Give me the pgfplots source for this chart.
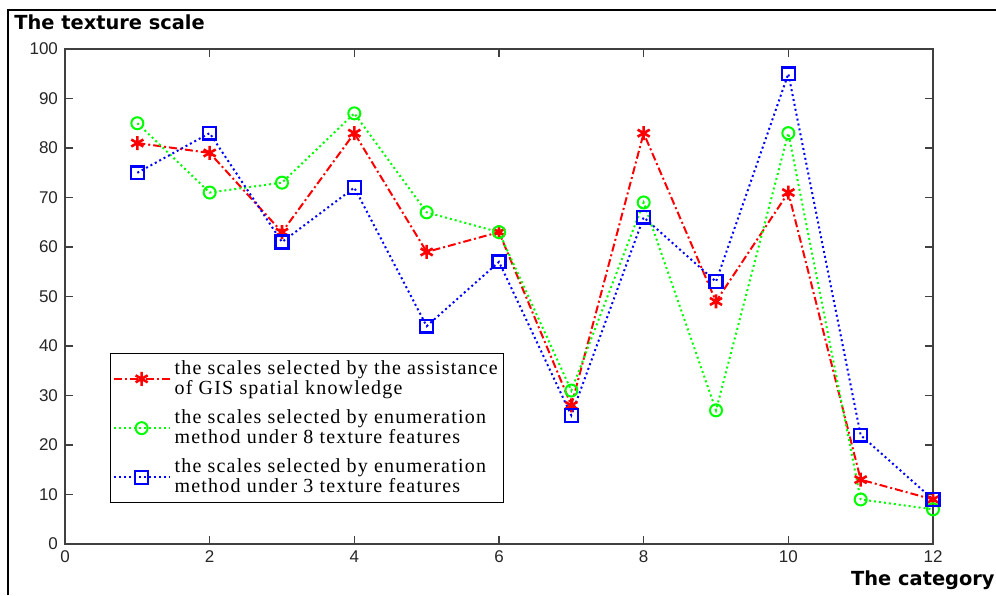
\documentclass[border=0pt]{standalone}
\usepackage{pgfplots}
\pgfplotsset{compat=1.18}
\usepackage{fontspec}
\setmainfont{Liberation Sans}
\newfontfamily\legfont[LetterSpace=6]{Liberation Serif}
\newfontfamily\labfont{DejaVu Sans}

\pgfplotstableread{
x gis enum8 enum3
1  81 85 75
2  79 71 83
3  63 73 61
4  83 87 72
5  59 67 44
6  63 63 57
7  28 31 26
8  83 69 66
9  49 27 53
10 71 83 95
11 13  9 22
12  9  7  9
}\scales

\begin{document}
\begin{tikzpicture}
\path[use as bounding box] (-32.5pt,-25.5pt) rectangle (465.5pt,272pt);
\begin{axis}[
    scale only axis,
    width=434pt, height=247.5pt,
    xmin=0, xmax=12, ymin=0, ymax=100,
    xtick={0,2,...,12},
    ytick={0,10,...,100},
    tick align=inside,
    major tick length=4pt,
    axis line style={black!75, line width=0.6pt},
    every tick/.style={black!75, line width=0.6pt},
    ticklabel style={font=\fontsize{8.5}{10}\selectfont, text=black!85},
    /pgf/number format/assume math mode=true,
    legend style={
        at={(0.052,0.386)}, anchor=north west,
        draw=black, line width=0.5pt, fill=white,
        font=\legfont\fontsize{10}{10}\selectfont,
        cells={align=left},
        row sep=2.2pt,
        inner xsep=1pt, inner ysep=1.5pt,
    },
    legend cell align=left,
    legend image code/.code={
        \draw[#1, mark repeat=2, mark phase=2]
            plot coordinates {(0pt,0pt) (14pt,0pt) (28pt,0pt)};
    },
]
\addplot[red, line width=1pt, dash pattern=on 4pt off 1.5pt on 1pt off 1.5pt,
    mark=asterisk, mark size=3.5pt, mark options={solid, line width=1.3pt}]
    table[x=x, y=gis] {\scales};
\addlegendentry{the scales selected by the assistance\\of GIS spatial knowledge}
\addplot[green, line width=1pt, dash pattern=on 1pt off 1.5pt,
    mark=o, mark size=3pt, mark options={solid, line width=1pt}]
    table[x=x, y=enum8] {\scales};
\addlegendentry{the scales selected by enumeration\\method under 8 texture features}
\addplot[blue, line width=1pt, dash pattern=on 1pt off 1.5pt,
    mark=square, mark size=3.2pt, mark options={solid, line width=1.2pt}]
    table[x=x, y=enum3] {\scales};
\addlegendentry{the scales selected by enumeration\\method under 3 texture features}
\end{axis}
% outer frame
\draw[line width=1pt] (-28.5pt,-25.5pt) -- (-28.5pt,267pt) -- (465.5pt,267pt);
\node[anchor=west, font=\labfont\bfseries\fontsize{9.7}{12}\selectfont, inner sep=0pt]
    at (-25.5pt,261pt) {The texture scale};
\node[anchor=east, font=\labfont\bfseries\fontsize{9.7}{12}\selectfont, inner sep=0pt]
    at (465pt,-18pt) {The category};
\end{tikzpicture}
\end{document}
